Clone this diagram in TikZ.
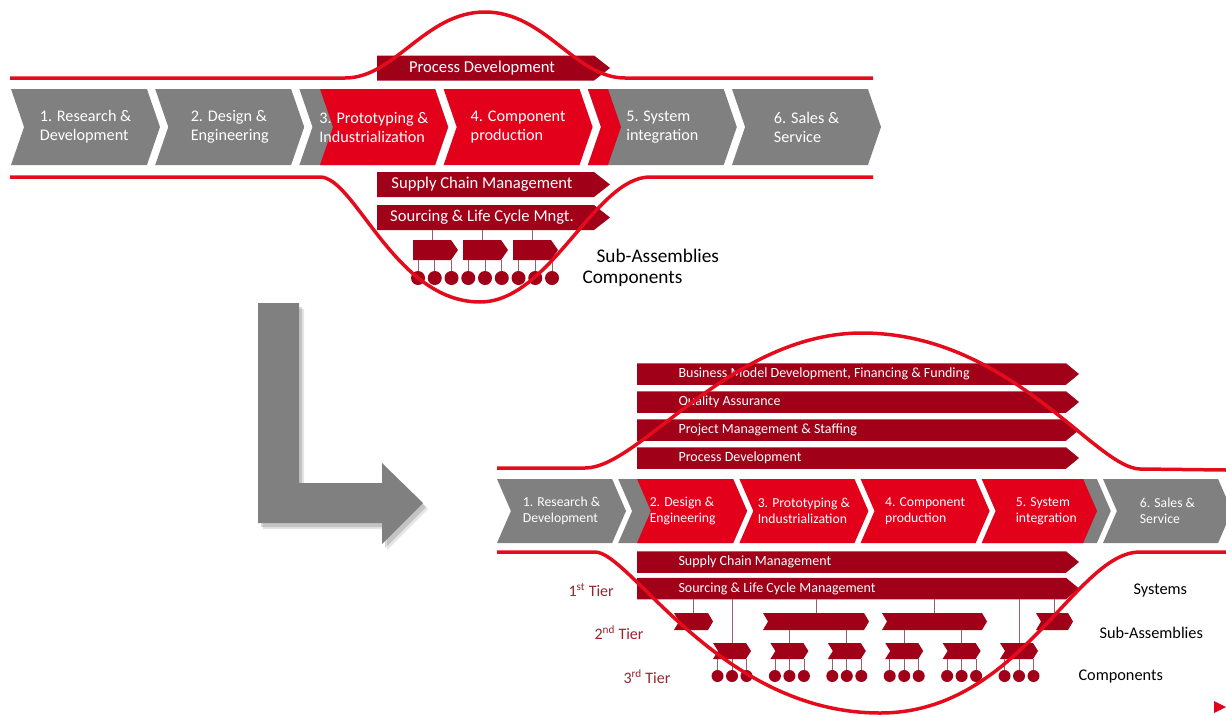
\documentclass[tikz,border=0pt]{standalone}
\usepackage{fontspec}
\setmainfont{Carlito}
\usepackage{tikz}
\usetikzlibrary{shapes}
\usetikzlibrary{positioning}

\definecolor{stageGrey}{RGB}{128,128,128}
\definecolor{stageRed}{RGB}{226,0,26}
\definecolor{barRed}{RGB}{160,0,24}
\definecolor{lineRed}{RGB}{228,12,28}
\definecolor{tierRed}{RGB}{150,35,45}
\definecolor{linkGrey}{RGB}{150,95,105}

\newcommand{\turnarrow}{(258,303) -- (299,303) -- (299,483) -- (382,483) -- (382,463) -- (423,503) -- (382,544) -- (382,523) -- (258,523) -- cycle}

\begin{document}
\begin{tikzpicture}[x = 1pt, y = -1pt, node distance = 144.2pt]
\tikzset{
  chevron/.style = {signal, signal from = west, signal to = east, fill = stageGrey, inner sep = 0pt, outer sep = 0pt},
  bigchev/.style = {chevron, minimum width = 149pt, minimum height = 76pt, signal pointer angle = 142},
  smallchev/.style = {chevron, minimum width = 129pt, minimum height = 64pt, signal pointer angle = 133},
  stagetext/.style = {text = white, align = left, font = \fontsize{16.2}{19}\selectfont},
  smalltext/.style = {text = white, align = left, font = \fontsize{13.7}{16}\selectfont},
  bar/.style = {signal, signal to = east, fill = barRed, inner sep = 0pt, outer sep = 0pt, anchor = west},
  topbar/.style = {bar, minimum width = 233pt, minimum height = 25pt, signal pointer angle = 76},
  lowbar/.style = {bar, minimum width = 442pt, minimum height = 21.5pt, signal pointer angle = 79},
  bartext/.style = {text = white, font = \fontsize{16.6}{19}\selectfont},
  lowbartext/.style = {text = white, anchor = west, font = \fontsize{14}{16}\selectfont},
  subchev/.style = {bar, minimum width = 45pt, minimum height = 20pt, signal pointer angle = 110},
  tiertwo/.style = {chevron, fill = barRed, minimum height = 17pt, signal pointer angle = 119},
  tierthree/.style = {chevron, fill = barRed, minimum width = 38pt, minimum height = 16pt, signal pointer angle = 116},
  dot/.style = {circle, fill = barRed, inner sep = 0pt},
  link/.style = {draw = linkGrey, line width = 0.8pt},
  curve/.style = {draw = lineRed, line width = 3.5pt},
  sidetext/.style = {anchor = west, font = \fontsize{19.3}{22}\selectfont},
  lowside/.style = {anchor = west, font = \fontsize{16.3}{19}\selectfont},
  tiertext/.style = {anchor = west, text = tierRed, font = \fontsize{16}{19}\selectfont},
}
\useasboundingbox (0,0) rectangle (1226,715);

% upper value chain
\node [bigchev] (rd1) at (85.5,127) {};
\node [bigchev, right of = rd1] (de1) {};
\node [bigchev, right of = de1] (pi1) {};
\node [bigchev, right of = pi1, fill = stageRed] (cp1) {};
\node [bigchev, right of = cp1] (si1) {};
\node [bigchev, right of = si1] (ss1) {};
\node [bigchev, fill = stageRed, minimum width = 128pt] (pired1) at (384,127) {};
\node [bigchev, fill = stageRed, minimum width = 33pt] (sired1) at (604.5,127) {};
\node [stagetext] (rd1t) at (rd1) {1. Research \&\\Development};
\node [stagetext] (de1t) at (de1) {2. Design \&\\Engineering};
\node [stagetext] (pi1t) at (pi1) {3. Prototyping \&\\Industrialization};
\node [stagetext] (cp1t) at (cp1) {4. Component\\production};
\node [stagetext] (si1t) at (si1) {5. System\\integration};
\node [stagetext] (ss1t) at (ss1) {6. Sales \&\\Service};

\node [topbar] (pd1) at (377,68) {};
\node [bartext] (pd1t) at (482,68) {Process Development};
\node [topbar] (sc1) at (377,184.5) {};
\node [bartext] (sc1t) at (482,184.5) {Supply Chain Management};
\node [topbar] (sl1) at (377,217.5) {};
\node [bartext] (sl1t) at (482,217.5) {Sourcing \& Life Cycle Mngt.};

\node [subchev] (sa1) at (413,250) {};
\node [subchev] (sa2) at (463,250) {};
\node [subchev] (sa3) at (513,250) {};
\foreach \i in {1,2,3}
  \draw [link] (sa\i.north) -- (sa\i.north |- sl1.south);
\foreach \i in {1,...,9} {
  \pgfmathtruncatemacro\grp{(\i+2)/3}
  \node [dot, minimum size = 14pt] (co\i) at ({418+16.75*(\i-1)},278) {};
  \draw [link] (co\i.north) -- (co\i.north |- sa\grp.south);
}
\node [sidetext] (sub1) at (593,256) {Sub-Assemblies};
\node [sidetext] (com1) at (579,279) {Components};

\draw [curve] (10,78) -- (345,78) .. controls (395,78) and (425,12) .. (485,12) .. controls (545,12) and (575,78) .. (625,78) -- (873,78);
\draw [curve] (10,177) -- (320,177) .. controls (355,177) and (395,302) .. (480,302) .. controls (550,302) and (595,177) .. (650,177) -- (873,177);

% turn arrow with soft shadow
\fill [black, opacity = 0.10, shift = {(5,6)}] \turnarrow;
\fill [black, opacity = 0.15, shift = {(3,4)}] \turnarrow;
\fill [stageGrey] \turnarrow;

% lower value chain
\node [smallchev] (rd2) at (561.5,511) {};
\node [smallchev, right of = rd2, node distance = 121.2pt] (de2) {};
\node [smallchev, right of = de2, node distance = 121.2pt, fill = stageRed] (pi2) {};
\node [smallchev, right of = pi2, node distance = 121.2pt, fill = stageRed] (cp2) {};
\node [smallchev, right of = cp2, node distance = 121.2pt] (si2) {};
\node [smallchev, right of = si2, node distance = 121.2pt] (ss2) {};
\node [smallchev, fill = stageRed, minimum width = 110pt] (dered2) at (692,511) {};
\node [smallchev, fill = stageRed, minimum width = 115.2pt] (sired2) at (1039.4,511) {};
\node [smalltext] (rd2t) at (rd2) {1. Research \&\\Development};
\node [smalltext] (de2t) at (de2) {2. Design \&\\Engineering};
\node [smalltext] (pi2t) at (pi2) {3. Prototyping \&\\Industrialization};
\node [smalltext] (cp2t) at (cp2) {4. Component\\production};
\node [smalltext] (si2t) at (si2) {5. System\\integration};
\node [smalltext] (ss2t) at (ss2) {6. Sales \&\\Service};

\node [lowbar] (bm2) at (637,374) {};
\node [lowbartext] (bm2t) at (675,374) {Business Model Development, Financing \& Funding};
\node [lowbar] (qa2) at (637,402) {};
\node [lowbartext] (qa2t) at (675,402) {Quality Assurance};
\node [lowbar] (pm2) at (637,430) {};
\node [lowbartext] (pm2t) at (675,430) {Project Management \& Staffing};
\node [lowbar] (pd2) at (637,458) {};
\node [lowbartext] (pd2t) at (675,458) {Process Development};
\node [lowbar] (sc2) at (637,562) {};
\node [lowbartext] (sc2t) at (675,562) {Supply Chain Management};
\node [lowbar] (sl2) at (637,588.5) {};
\node [lowbartext] (sl2t) at (675,588.5) {Sourcing \& Life Cycle Management};

\node [tiertwo, minimum width = 39pt] (ta) at (693.5,621.5) {};
\node [tiertwo, minimum width = 106pt] (tb) at (816,621.5) {};
\node [tiertwo, minimum width = 105pt] (tc) at (934.5,621.5) {};
\node [tiertwo, minimum width = 37pt] (td) at (1054.5,621.5) {};
\node [tierthree] (r1) at (732,651) {};
\node [tierthree] (r2) at (789.4,651) {};
\node [tierthree] (r3) at (846.8,651) {};
\node [tierthree] (r4) at (904.2,651) {};
\node [tierthree] (r5) at (961.6,651) {};
\node [tierthree] (r6) at (1019,651) {};
\foreach \n in {ta,tb,tc,td,r1,r6}
  \draw [link] (\n.north) -- (\n.north |- sl2.south);
\draw [link] (r2.north) -- (r2.north |- tb.south);
\draw [link] (r3.north) -- (r3.north |- tb.south);
\draw [link] (r4.north) -- (r4.north |- tc.south);
\draw [link] (r5.north) -- (r5.north |- tc.south);
\foreach \j in {1,...,6}
  \foreach \k in {0,1,2} {
    \node [dot, minimum size = 12pt] (dt\j\k) at ({713+57.4*(\j-1)+4.5+14.5*\k},676) {};
    \draw [link] (dt\j\k.north) -- (dt\j\k.north |- r\j.south);
  }

\node [tiertext] (tier1) at (565,590) {1\textsuperscript{st} Tier};
\node [tiertext] (tier2) at (591,633) {2\textsuperscript{nd} Tier};
\node [tiertext] (tier3) at (620,677) {3\textsuperscript{rd} Tier};
\node [lowside] (sys2) at (1130,591) {Systems};
\node [lowside] (sub2) at (1096,633) {Sub-Assemblies};
\node [lowside] (com2) at (1075,677) {Components};

\draw [curve] (497,468) -- (585,468) .. controls (640,468) and (730,333) .. (862,333) .. controls (1010,333) and (1095,468) .. (1140,469) -- (1226,470);
\draw [curve] (497,552) -- (595,552) .. controls (630,552) and (720,713) .. (880,713) .. controls (1020,713) and (1075,552) .. (1140,552) -- (1226,552);
\fill [stageRed] (1214,701) -- (1226,707) -- (1214,713) -- cycle;
\end{tikzpicture}
\end{document}
